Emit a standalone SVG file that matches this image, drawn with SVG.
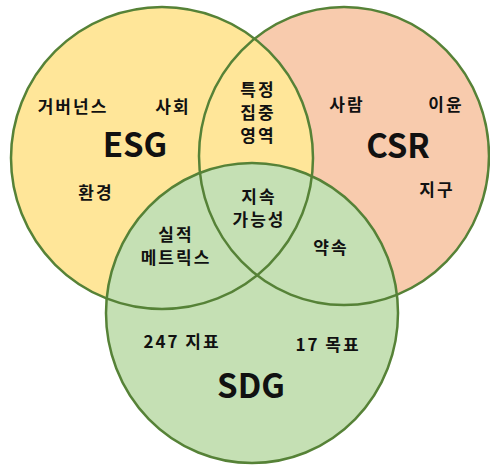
<svg xmlns="http://www.w3.org/2000/svg" width="490" height="468" viewBox="0 0 490 468">
<style>
.t{font-family:"Noto Sans CJK KR","Malgun Gothic","Noto Sans",sans-serif;font-weight:bold;font-size:17px;letter-spacing:2px;fill:#111;text-anchor:middle}
.big{font-size:33px;letter-spacing:0}
.ol{fill:none;stroke:#568237;stroke-width:2.5}
</style>
<rect width="490" height="468" fill="#fff"/>
<g id="csr"><ellipse cx="344" cy="156" rx="145" ry="149" fill="#f8cbad"/></g>
<g id="esg"><ellipse cx="162" cy="158" rx="151" ry="151" fill="#ffe699"/></g>
<g id="sdg"><ellipse cx="252" cy="313" rx="146" ry="150" fill="#c5e0b4"/></g>
<g id="connectors">
<ellipse class="ol" cx="344" cy="156" rx="145" ry="149"/>
<ellipse class="ol" cx="162" cy="158" rx="151" ry="151"/>
<ellipse class="ol" cx="252" cy="313" rx="146" ry="150"/>
</g>
<g id="labels">
<text class="t" x="73" y="113">거버넌스</text>
<text class="t" x="173" y="113">사회</text>
<text class="t big" x="135" y="157">ESG</text>
<text class="t" x="96" y="199">환경</text>
<text class="t" x="258" y="96">특정</text>
<text class="t" x="258" y="119">집중</text>
<text class="t" x="258" y="142">영역</text>
<text class="t" x="347" y="111">사람</text>
<text class="t" x="446" y="111">이윤</text>
<text class="t big" x="398" y="158">CSR</text>
<text class="t" x="437" y="196">지구</text>
<text class="t" x="259" y="203">지속</text>
<text class="t" x="259" y="226">가능성</text>
<text class="t" x="176" y="241">실적</text>
<text class="t" x="176" y="264">메트릭스</text>
<text class="t" x="331" y="254">약속</text>
<text class="t" x="182" y="348">247 지표</text>
<text class="t" x="328" y="351">17 목표</text>
<text class="t big" x="251" y="398">SDG</text>
</g>
</svg>
